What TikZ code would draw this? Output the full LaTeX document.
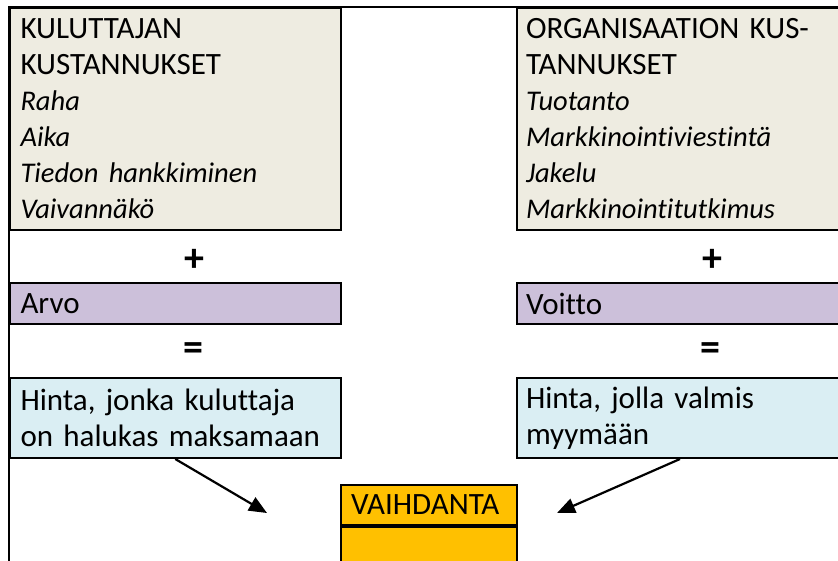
\documentclass[tikz,border=0pt]{standalone}
\usepackage{fontspec}
\setmainfont[Ligatures=NoCommon]{Carlito}
\usetikzlibrary{arrows.meta}
\usetikzlibrary{positioning}
\tikzset{pointer/.style = {line width=2.2pt, -{Triangle[length=18pt, width=15pt]}}}
\tikzset{cell/.style = {draw, line width=2pt, anchor=north west, align=left,
                        inner xsep=11pt, inner ysep=0pt,
                        font=\fontsize{31}{36}\selectfont}}
\tikzset{sign/.style = {font=\fontsize{40}{44}\selectfont\bfseries}}
\newcommand{\kohta}[1]{{\fontsize{28.5}{36}\selectfont\itshape #1}}
\definecolor{mbeige}{HTML}{EEECE1}
\definecolor{mlilac}{HTML}{CCC0DA}
\definecolor{mcyan}{HTML}{DAEEF3}
\definecolor{mamber}{HTML}{FFC000}

\begin{document}
\begin{tikzpicture}[x=1pt, y=-1pt]
      \useasboundingbox (0, 0) rectangle (838, 560);
      \clip (0, 0) rectangle (838, 560);

      % left column
      \node [cell, fill=mbeige, text width=309.5, minimum height=222] (kulut) at (8.5, 6.5)
        {KULUTTAJAN\\KUSTANNUKSET\\\kohta{Raha}\\\kohta{Aika}\\\kohta{Tiedon hankkiminen}\\\kohta{Vaivannäkö}};
      \node [sign] (plusA) at (194, 260) {+};
      \node [cell, fill=mlilac, text width=309.5, minimum height=41] (arvo) at (8.5, 282) {Arvo};
      \node [sign] (isA) at (193, 352) {=};
      \node [cell, fill=mcyan, text width=309.5, minimum height=80] (hintaA) at (8.5, 377)
        {Hinta, jonka kuluttaja\\on halukas maksamaan};

      % right column
      \node [cell, fill=mbeige, text width=320, minimum height=222, inner xsep=9pt] (organ) at (516, 6.5)
        {ORGANISAATION KUS-\\TANNUKSET\\\kohta{Tuotanto}\\\kohta{Markkinointiviestintä}\\\kohta{Jakelu}\\\kohta{Markkinointitutkimus}};
      \node [sign] (plusB) at (712, 260) {+};
      \node [cell, fill=mlilac, text width=320, minimum height=41, inner xsep=9pt] (voitto) at (516, 282) {Voitto};
      \node [sign] (isB) at (710, 352) {=};
      \node [cell, fill=mcyan, text width=320, minimum height=80, inner xsep=9pt] (hintaB) at (516, 377)
        {Hinta, jolla valmis\\myymään};

      % exchange
      \node [cell, fill=mamber, text width=156, minimum height=40, inner xsep=10pt] (vaihto) at (340, 484) {VAIHDANTA};
      \node [cell, fill=mamber, text width=156, minimum height=50, inner xsep=10pt,
             anchor=north, below=0pt of vaihto] (vaihtoB) {};

      % table frame
      \draw [line width=2pt] (850, 6.5) -| (8.5, 570);

      \coordinate (tipA) at (267, 513);
      \coordinate (tipB) at (557, 513);
      \draw [pointer] (hintaA.south) -- (tipA);
      \draw [pointer] ([xshift=-6pt]hintaB.south) -- (tipB);
\end{tikzpicture}
\end{document}
